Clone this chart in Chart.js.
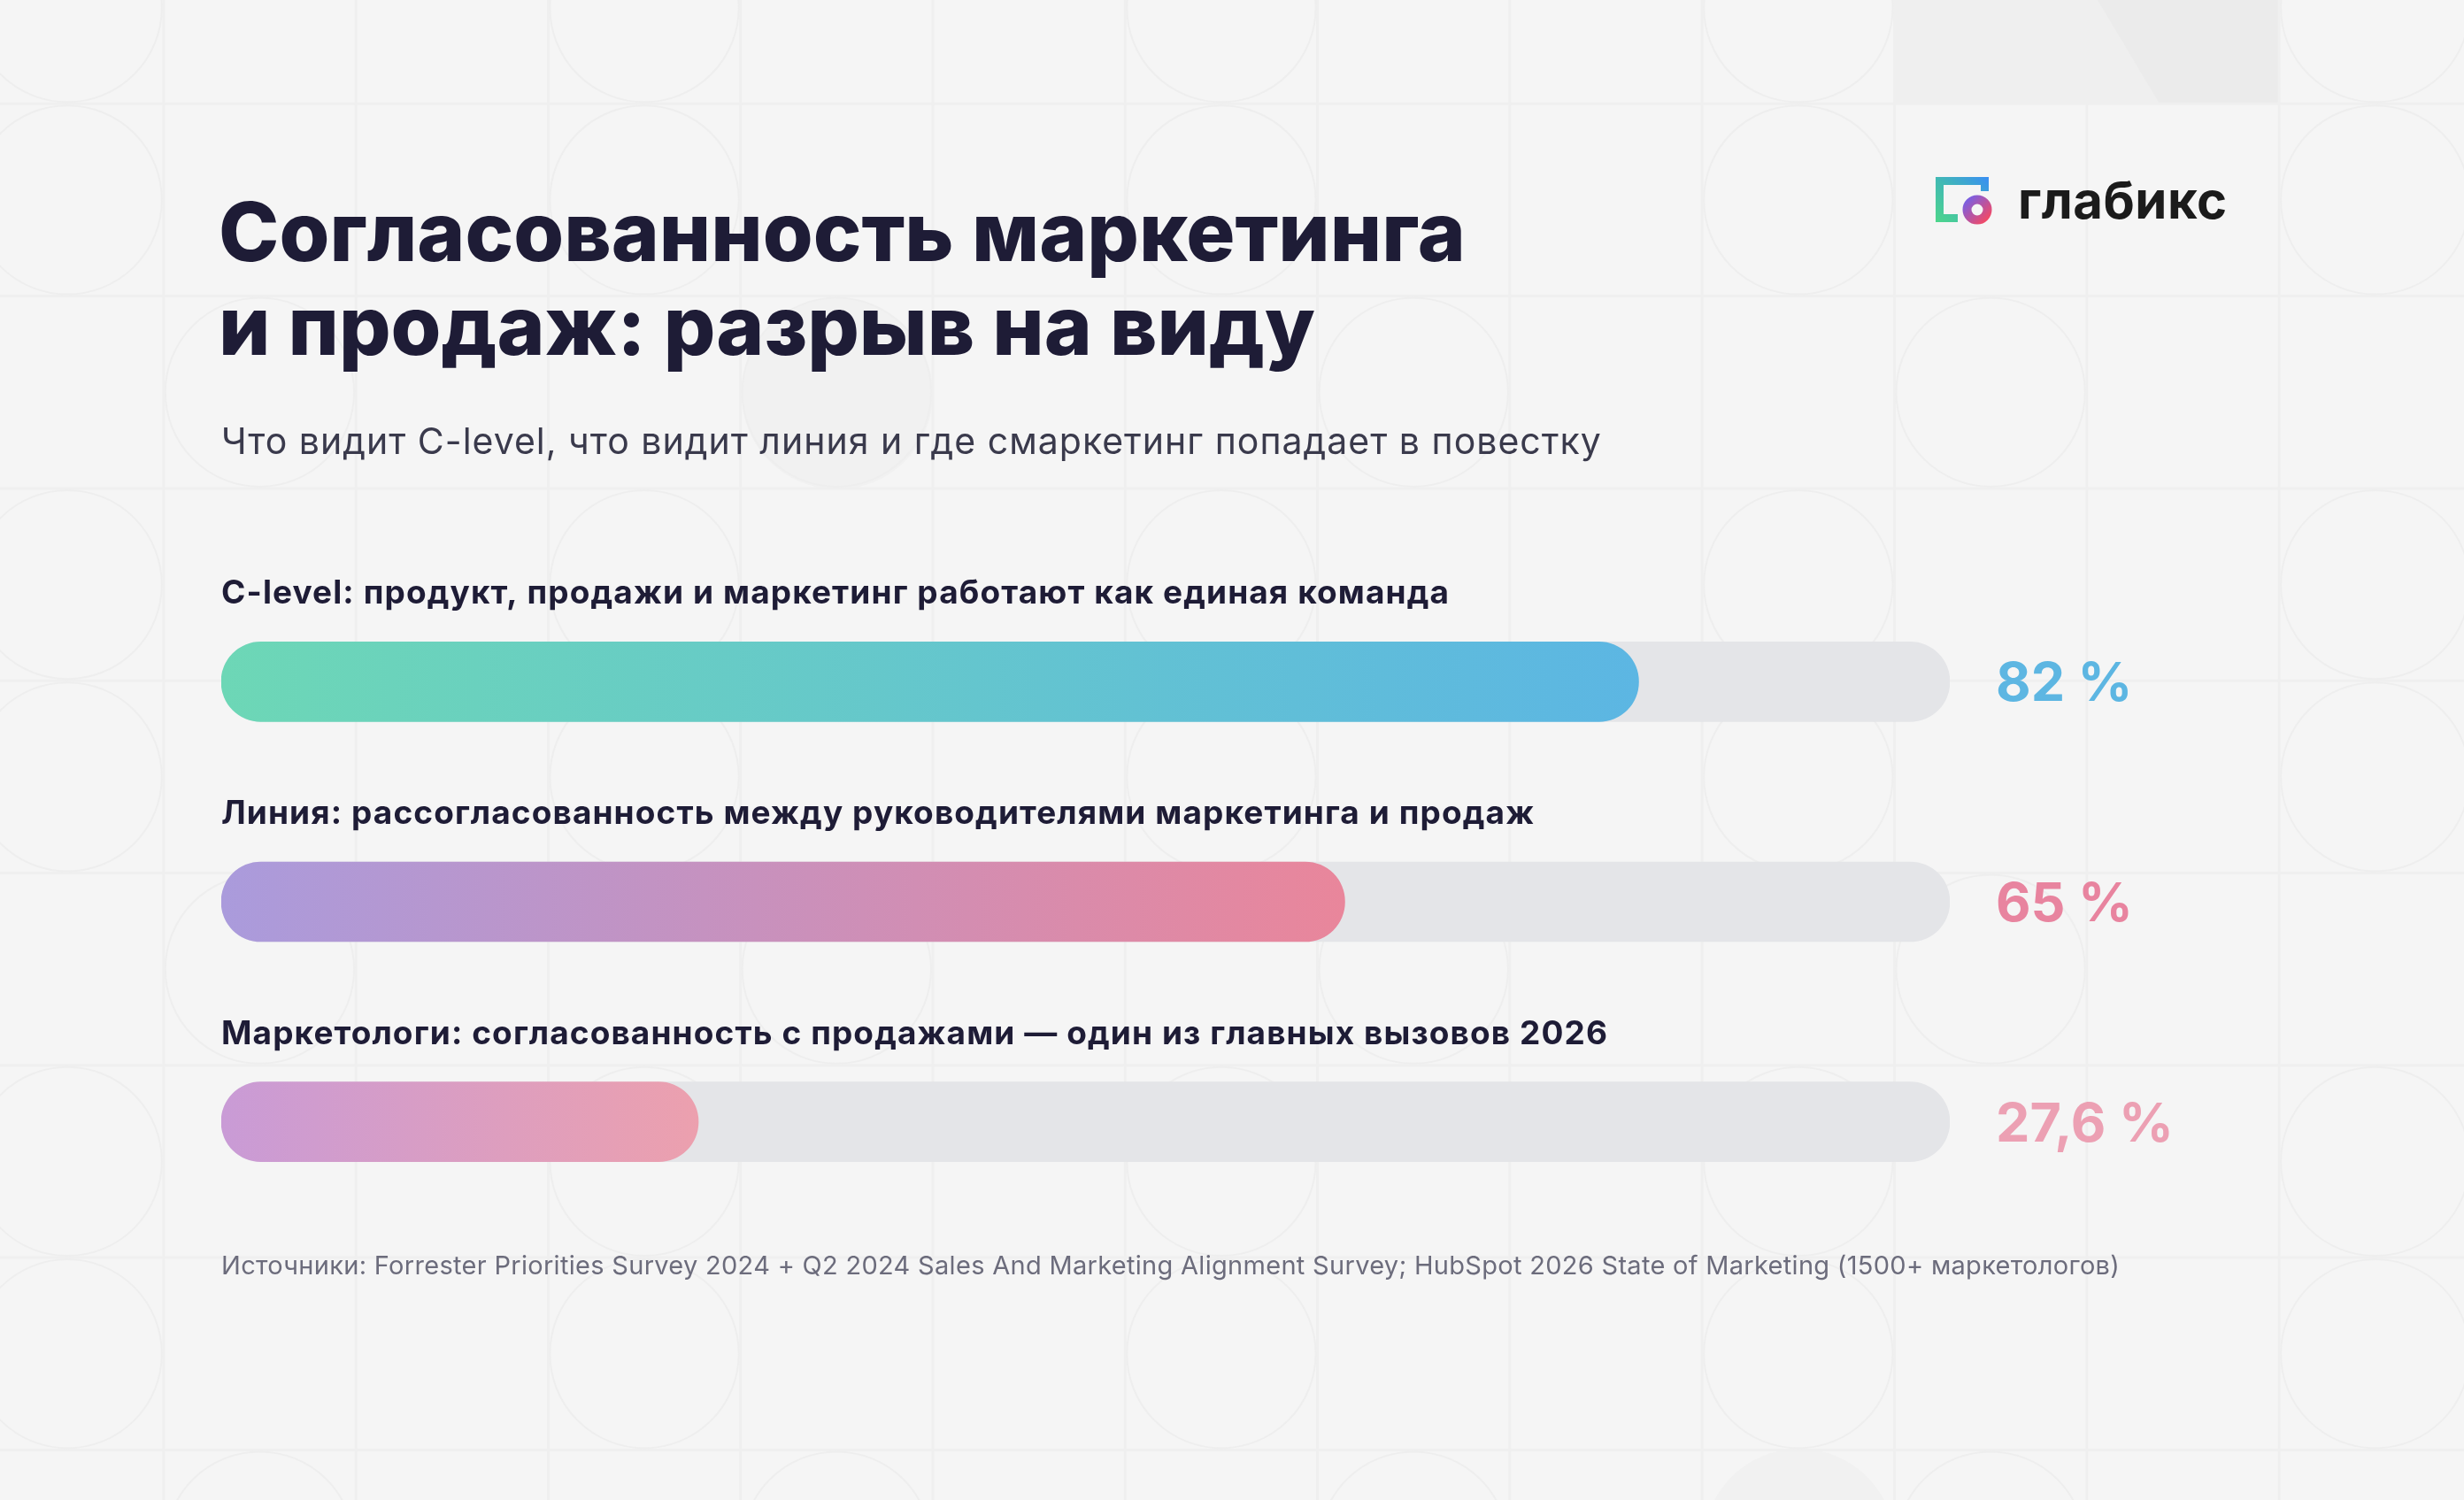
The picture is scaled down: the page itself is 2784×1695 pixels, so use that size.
<!DOCTYPE html>
<html lang="ru">
<head>
<meta charset="utf-8">
<title>Согласованность маркетинга и продаж</title>
<script src="https://cdn.jsdelivr.net/npm/chart.js@4.4.1/dist/chart.umd.min.js"></script>
<style>
  html, body { margin: 0; padding: 0; }
  body { width: 2784px; height: 1695px; position: relative; overflow: hidden; background: #f5f5f5; font-family: Inter, "Noto Sans", sans-serif; }
  #bg { position: absolute; left: 0; top: 0; }
  #chartWrap { position: absolute; left: 0; top: 0; width: 2784px; height: 1695px; }
  .abs { position: absolute; white-space: nowrap; }
  #title { left: 247px; top: 209px; font-size: 92px; line-height: 106px; font-weight: 800; color: #1e1c36; letter-spacing: 0px; }
  #subtitle { left: 250px; top: 478px; font-size: 41px; line-height: 40px; font-weight: 400; color: #3a3a4c; letter-spacing: 1.0px; }
  #source { left: 250px; top: 1415px; font-size: 29px; line-height: 29px; font-weight: 400; color: #6c6c7c; letter-spacing: 0.3px; }
  #logoText { left: 2280px; top: 197px; font-size: 58px; line-height: 58px; font-weight: 700; color: #1b1b1b; letter-spacing: 0.5px; }
  #logoIcon { left: 2187px; top: 200px; }
</style>
</head>
<body>
<canvas id="bg" width="2784" height="1695"></canvas>
<div id="chartWrap"><canvas id="chart"></canvas></div>

<div id="title" class="abs">Согласованность маркетинга<br>и продаж: разрыв на виду</div>
<div id="subtitle" class="abs">Что видит C-level, что видит линия и где смаркетинг попадает в повестку</div>
<div id="source" class="abs">Источники: Forrester Priorities Survey 2024 + Q2 2024 Sales And Marketing Alignment Survey; HubSpot 2026 State of Marketing (1500+ маркетологов)</div>

<svg id="logoIcon" class="abs" width="66" height="58" viewBox="0 0 66 58">
  <defs>
    <linearGradient id="gSq" x1="0" y1="1" x2="1" y2="0">
      <stop offset="0" stop-color="#4dd68a"/>
      <stop offset="0.5" stop-color="#41b9b4"/>
      <stop offset="1" stop-color="#3a8ef4"/>
    </linearGradient>
    <linearGradient id="gRing" x1="0" y1="0" x2="1" y2="1">
      <stop offset="0" stop-color="#7a5fe2"/>
      <stop offset="1" stop-color="#f24a66"/>
    </linearGradient>
  </defs>
  <path fill="url(#gSq)" d="M0 0 H60 V16 H51 V9 H9 V42 H25 V51 H0 Z"/>
  <circle cx="47" cy="37" r="11.5" fill="none" stroke="url(#gRing)" stroke-width="10"/>
</svg>
<div id="logoText" class="abs">глабикс</div>

<script>
// ---- DATA ----
const categories = [
  'C-level: продукт, продажи и маркетинг работают как единая команда',
  'Линия: рассогласованность между руководителями маркетинга и продаж',
  'Маркетологи: согласованность с продажами — один из главных вызовов 2026'
];
const values = [82, 65, 27.6];
const valueLabels = ['82 %', '65 %', '27,6 %'];
const trackValues = [100, 100, 100];
const axisMax = 100;

// ---- STYLE ----
const gradStart = ['#6dd7b6', '#aa9bdc', '#c99bd6'];
const gradEnd   = ['#5cb6e3', '#e9869b', '#eca0ae'];
const valueColors = ['#5db6e2', '#e8849f', '#eca0b3'];

// ---- BACKGROUND PATTERN (decoration) ----
(function drawBg() {
  const c = document.getElementById('bg');
  const g = c.getContext('2d');
  g.fillStyle = '#f5f5f5';
  g.fillRect(0, 0, c.width, c.height);
  const step = 217.3, ox = -32.5, oy = -100;
  // top-right block
  g.fillStyle = '#efefef';
  g.fillRect(2140, 0, 435, 117);
  g.fillStyle = '#ebebeb';
  g.beginPath(); g.moveTo(2370, 0); g.lineTo(2575, 0); g.lineTo(2575, 117); g.lineTo(2440, 117); g.closePath(); g.fill();
  // faint filled shapes
  g.fillStyle = '#f1f1f1';
  g.beginPath(); g.ellipse(946, 445, 108, 108, 0, 0, Math.PI * 2); g.fill();
  g.beginPath(); g.ellipse(2033, 1745, 108, 108, 0, 0, Math.PI * 2); g.fill();
  g.strokeStyle = '#efefef';
  g.lineWidth = 3;
  for (let x = ox; x < c.width + step; x += step) {
    g.beginPath(); g.moveTo(x, 0); g.lineTo(x, c.height); g.stroke();
  }
  for (let y = oy; y < c.height + step; y += step) {
    g.beginPath(); g.moveTo(0, y); g.lineTo(c.width, y); g.stroke();
  }
  g.lineWidth = 2;
  g.strokeStyle = '#eeeeee';
  for (let r = 0; r < 9; r++) {
    for (let col = 0; col < 14; col++) {
      const shifted = (r % 3 === 2);
      if ((!shifted && col % 3 === 0) || (shifted && col % 3 === 1)) {
        const cx = ox + step * col + step / 2;
        const cy = oy + step * r + step / 2;
        g.beginPath(); g.arc(cx, cy, step / 2 - 2, 0, Math.PI * 2); g.stroke();
      }
    }
  }
})();

// ---- CHART ----
function barGradient(ctx) {
  const chart = ctx.chart;
  const area = chart.chartArea;
  const i = ctx.dataIndex;
  if (!area || !chart.scales.x) return gradEnd[i];
  const xs = chart.scales.x;
  const x0 = xs.getPixelForValue(0);
  const x1 = xs.getPixelForValue(values[i]);
  const gr = chart.ctx.createLinearGradient(x0, 0, x1, 0);
  gr.addColorStop(0, gradStart[i]);
  gr.addColorStop(1, gradEnd[i]);
  return gr;
}

const labelPlugin = {
  id: 'barLabels',
  afterDatasetsDraw(chart) {
    const g = chart.ctx;
    const xs = chart.scales.x, ys = chart.scales.y;
    const half = 45;
    g.save();
    categories.forEach((cat, i) => {
      const y = ys.getPixelForValue(i);
      g.fillStyle = '#1e1c36';
      g.font = '700 37px Inter, "Noto Sans", sans-serif';
      g.textAlign = 'left';
      g.textBaseline = 'alphabetic';
      g.letterSpacing = '1.1px';
      g.fillText(cat, xs.getPixelForValue(0), y - half - 43);
      g.letterSpacing = '0px';
      g.fillStyle = valueColors[i];
      g.font = '700 61px Inter, "Noto Sans", sans-serif';
      g.fillText(valueLabels[i], xs.getPixelForValue(axisMax) + 52, y + 22);
    });
    g.restore();
  }
};

new Chart(document.getElementById('chart'), {
  type: 'bar',
  data: {
    labels: categories,
    datasets: [
      {
        label: 'Значение',
        data: values,
        backgroundColor: barGradient,
        borderRadius: 45,
        borderSkipped: false,
        barThickness: 90,
        grouped: false
      },
      {
        label: 'Шкала',
        data: trackValues,
        backgroundColor: '#e4e5e8',
        borderRadius: 45,
        borderSkipped: false,
        barThickness: 90,
        grouped: false
      }
    ]
  },
  options: {
    indexAxis: 'y',
    responsive: true,
    maintainAspectRatio: false,
    animation: false,
    layout: { padding: { left: 250, right: 581, top: 646, bottom: 303 } },
    scales: {
      x: { display: false, min: 0, max: axisMax },
      y: { display: false }
    },
    plugins: {
      legend: { display: false },
      tooltip: { enabled: false }
    }
  },
  plugins: [labelPlugin]
});
</script>
</body>
</html>
